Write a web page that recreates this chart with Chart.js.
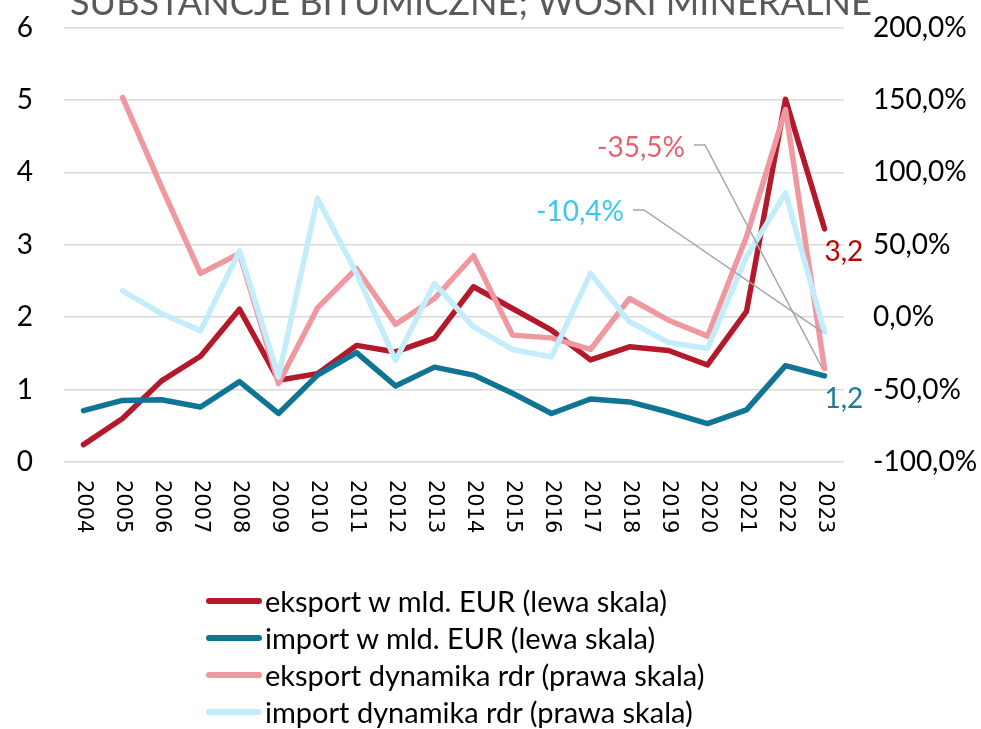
<!DOCTYPE html>
<html lang="pl">
<head>
    <meta charset="UTF-8">
    <title>Substancje bitumiczne; woski mineralne</title>
    <style>
        body { margin: 0; background: #fff; overflow: hidden; }
        .wrap { position: relative; width: 981px; height: 729px; }
        #chart { position: absolute; left: 0; top: 0; }
        .legend {
            position: absolute;
            left: 206px;
            top: 582px;
            font-family: Lato, sans-serif;
            font-size: 29px;
            color: #000;
        }
        .legend-row {
            display: flex;
            align-items: center;
            height: 37px;
            white-space: nowrap;
        }
        .legend-swatch {
            width: 56px;
            height: 6px;
            border-radius: 3px;
            margin-right: 3px;
        }
    </style>
</head>
<body>
<div class="wrap">
    <canvas id="chart" width="981" height="729"></canvas>
    <div class="legend" id="legend"></div>
</div>
<script src="https://cdn.jsdelivr.net/npm/chart.js"></script>
<script>
    const title = 'SUBSTANCJE BITUMICZNE; WOSKI MINERALNE';
    const years = ['2004', '2005', '2006', '2007', '2008', '2009', '2010', '2011', '2012', '2013',
                   '2014', '2015', '2016', '2017', '2018', '2019', '2020', '2021', '2022', '2023'];
    // mld EUR, lewa skala
    const eksport = [0.24, 0.60, 1.12, 1.46, 2.11, 1.13, 1.22, 1.61, 1.52, 1.71,
                     2.42, 2.12, 1.82, 1.41, 1.59, 1.54, 1.34, 2.08, 5.01, 3.22];
    const importVal = [0.71, 0.85, 0.86, 0.76, 1.11, 0.67, 1.20, 1.51, 1.05, 1.31,
                       1.20, 0.95, 0.67, 0.87, 0.83, 0.69, 0.53, 0.72, 1.33, 1.19];
    // dynamika rdr w %, prawa skala
    const eksportDyn = [null, 151.7, 90.0, 30.2, 44.0, -45.8, 6.4, 33.6, -5.0, 12.9,
                        42.4, -12.4, -14.3, -22.3, 12.9, -2.1, -13.1, 55.5, 143.4, -35.5];
    const importDyn = [null, 18.2, 2.5, -9.4, 45.8, -41.2, 82.0, 30.2, -29.7, 23.3,
                       -6.7, -22.3, -27.4, 30.2, -3.2, -17.5, -21.6, 41.6, 85.8, -10.4];
    const leftTicks = [0, 6, 1];
    const rightTicks = [-100, 200, 50];

    const font = 'Lato, sans-serif';
    const fmt = (v, d) => v.toFixed(d).replace('.', ',');

    // tytul (ucięty u góry), etykiety lat, etykiety końcowe i odnośniki
    const extras = {
        id: 'extras',
        afterDraw(chart) {
            const ctx = chart.ctx;
            const x = chart.scales.x;
            const y = chart.scales.y;
            const y1 = chart.scales.y1;
            ctx.save();

            ctx.font = '40px ' + font;
            const size = 40 * 802 / ctx.measureText(title).width;
            ctx.font = size + 'px ' + font;
            ctx.fillStyle = '#595959';
            ctx.textAlign = 'left';
            ctx.textBaseline = 'alphabetic';
            ctx.fillText(title, 70, 15);

            ctx.font = '21px "DejaVu Sans"';
            ctx.fillStyle = '#000';
            ctx.textBaseline = 'middle';
            years.forEach((yr, i) => {
                ctx.save();
                ctx.translate(x.getPixelForValue(i), 480);
                ctx.rotate(Math.PI / 2);
                ctx.fillText(yr, 0, 0);
                ctx.restore();
            });

            const last = years.length - 1;
            const px = x.getPixelForValue(last);
            ctx.font = '28px ' + font;
            ctx.fillStyle = '#C00000';
            ctx.fillText(fmt(eksport[last], 1), px, y.getPixelForValue(eksport[last]) + 23);
            ctx.fillStyle = '#1F7A95';
            ctx.fillText(fmt(importVal[last], 1), px, y.getPixelForValue(importVal[last]) + 23);

            // odnośniki do dynamiki 2023
            const callouts = [
                { v: eksportDyn[last], color: '#E8606E', tx: 685, ty: 148, lx: 694, ly: 145 },
                { v: importDyn[last], color: '#3CC6EC', tx: 624, ty: 212, lx: 633, ly: 210 }
            ];
            callouts.forEach(c => {
                ctx.fillStyle = c.color;
                ctx.textAlign = 'right';
                ctx.fillText(fmt(c.v, 1) + '%', c.tx, c.ty);
                ctx.strokeStyle = '#A6A6A6';
                ctx.lineWidth = 1.5;
                ctx.beginPath();
                ctx.moveTo(c.lx, c.ly);
                ctx.lineTo(c.lx + 11, c.ly);
                ctx.lineTo(px - 2, y1.getPixelForValue(c.v));
                ctx.stroke();
            });
            ctx.restore();
        }
    };

    const lineStyle = { borderWidth: 5.5, borderJoinStyle: 'round', borderCapStyle: 'round', pointRadius: 0, tension: 0 };

    const fixVertical = w => s => {
        s.width = w;
        s.paddingTop = 0;
        s.paddingBottom = 0;
    };

    const chart = new Chart(document.getElementById('chart'), {
        type: 'line',
        data: {
            labels: years,
            datasets: [
                { label: 'eksport w mld. EUR (lewa skala)', data: eksport, borderColor: '#B4182B', yAxisID: 'y', order: 4, ...lineStyle },
                { label: 'import w mld. EUR (lewa skala)', data: importVal, borderColor: '#107494', yAxisID: 'y', order: 3, ...lineStyle },
                { label: 'eksport dynamika rdr (prawa skala)', data: eksportDyn, borderColor: '#F0989F', yAxisID: 'y1', order: 2, ...lineStyle },
                { label: 'import dynamika rdr (prawa skala)', data: importDyn, borderColor: '#C3EDFB', yAxisID: 'y1', order: 1, ...lineStyle }
            ]
        },
        options: {
            responsive: false,
            animation: false,
            layout: { padding: { top: 27.5, bottom: 167, left: 0, right: 0 } },
            plugins: { legend: { display: false }, tooltip: { enabled: false } },
            scales: {
                x: {
                    offset: true,
                    grid: { display: false },
                    border: { display: false },
                    ticks: { display: false },
                    afterFit: s => { s.height = 100; }
                },
                y: {
                    position: 'left',
                    min: leftTicks[0], max: leftTicks[1],
                    ticks: { stepSize: leftTicks[2], padding: 31, color: '#000', font: { family: font, size: 28 } },
                    grid: { color: '#D9D9D9', lineWidth: 1.5, drawTicks: false },
                    border: { display: false },
                    afterFit: fixVertical(64)
                },
                y1: {
                    position: 'right',
                    min: rightTicks[0], max: rightTicks[1],
                    ticks: {
                        stepSize: rightTicks[2], padding: 29, color: '#000',
                        font: { family: font, size: 28 },
                        callback: v => fmt(v, 1) + '%'
                    },
                    grid: { display: false, drawTicks: false },
                    border: { display: false },
                    afterFit: fixVertical(137)
                }
            }
        },
        plugins: [extras]
    });

    // legenda w jednej kolumnie
    const legend = document.getElementById('legend');
    chart.data.datasets.forEach(ds => {
        const row = document.createElement('div');
        row.className = 'legend-row';
        const sw = document.createElement('span');
        sw.className = 'legend-swatch';
        sw.style.background = ds.borderColor;
        const txt = document.createElement('span');
        txt.textContent = ds.label;
        row.appendChild(sw);
        row.appendChild(txt);
        legend.appendChild(row);
    });
</script>
</body>
</html>
